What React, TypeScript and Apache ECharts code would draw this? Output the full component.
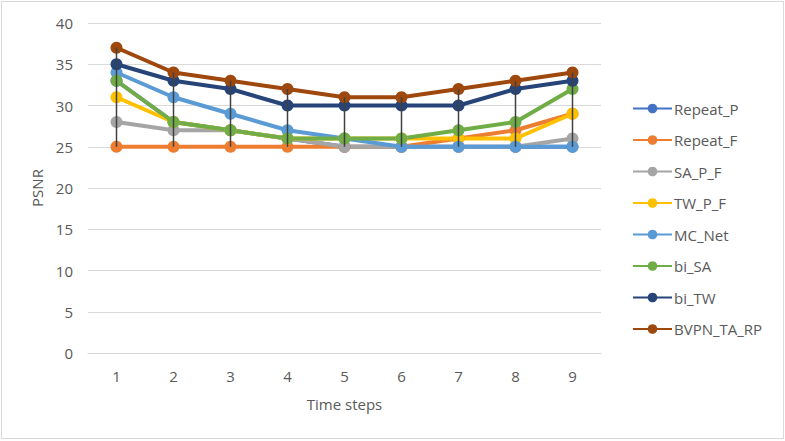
import React, { useEffect, useRef } from "react";
import * as echarts from "echarts";

const categories = ["1", "2", "3", "4", "5", "6", "7", "8", "9"];
const repeatP = [33, 28, 27, 26, 25, 25, 25, 25, 25];
const repeatF = [25, 25, 25, 25, 25, 25, 26, 27, 29];
const saPF = [28, 27, 27, 26, 25, 25, 25, 25, 26];
const twPF = [31, 28, 27, 26, 26, 26, 26, 26, 29];
const mcNet = [34, 31, 29, 27, 26, 25, 25, 25, 25];
const biSA = [33, 28, 27, 26, 26, 26, 27, 28, 32];
const biTW = [35, 33, 32, 30, 30, 30, 30, 32, 33];
const bvpn = [37, 34, 33, 32, 31, 31, 32, 33, 34];

const seriesDefs = [
  { name: "Repeat_P", data: repeatP, color: "#4472C4" },
  { name: "Repeat_F", data: repeatF, color: "#ED7D31" },
  { name: "SA_P_F", data: saPF, color: "#A5A5A5" },
  { name: "TW_P_F", data: twPF, color: "#FFC000" },
  { name: "MC_Net", data: mcNet, color: "#5B9BD5" },
  { name: "bi_SA", data: biSA, color: "#70AD47" },
  { name: "bi_TW", data: biTW, color: "#264478" },
  { name: "BVPN_TA_RP", data: bvpn, color: "#9E480E" },
];

const FONT = "'Open Sans', sans-serif";
const TXT = "#595959";

export default function App() {
  const ref = useRef<HTMLDivElement>(null);
  useEffect(() => {
    if (!ref.current) return;
    const chart = echarts.init(ref.current, undefined, { renderer: "svg" });
    const hiLo = categories.map((_, i) => {
      const vals = seriesDefs.map((s) => s.data[i]);
      return [i, Math.min(...vals), Math.max(...vals)];
    });
    chart.setOption({
      animation: false,
      textStyle: { fontFamily: FONT },
      grid: { left: 86, right: 182, top: 21, bottom: 85 },
      legend: {
        orient: "vertical",
        left: 630,
        top: 99,
        padding: 0,
        itemWidth: 39,
        itemHeight: 12,
        itemGap: 16.5,
        textStyle: { fontFamily: FONT, fontSize: 15, color: TXT, padding: [0, 0, 0, -3] },
        data: seriesDefs.map((s) => s.name),
      },
      xAxis: {
        type: "category",
        data: categories,
        boundaryGap: true,
        axisLine: { lineStyle: { color: "#D9D9D9", width: 1 } },
        axisTick: { show: false },
        axisLabel: { color: TXT, fontSize: 15, fontFamily: FONT, margin: 15 },
        name: "Time steps",
        nameLocation: "middle",
        nameGap: 43,
        nameTextStyle: { color: TXT, fontSize: 15, fontFamily: FONT },
      },
      yAxis: {
        type: "value",
        min: 0,
        max: 40,
        interval: 5,
        axisLine: { show: false },
        axisTick: { show: false },
        axisLabel: { color: TXT, fontSize: 15, fontFamily: FONT, margin: 15 },
        splitLine: { lineStyle: { color: "#D9D9D9", width: 1 } },
        name: "PSNR",
        nameLocation: "middle",
        nameGap: 42,
        nameTextStyle: { color: TXT, fontSize: 15, fontFamily: FONT },
      },
      series: [
        ...seriesDefs.map((s) => ({
          name: s.name,
          type: "line",
          data: s.data,
          symbol: "circle",
          symbolSize: 12,
          lineStyle: { color: s.color, width: 4 },
          itemStyle: { color: s.color },
          emphasis: { disabled: true },
        })),
        {
          type: "custom",
          name: "hilo",
          data: hiLo,
          z: 10,
          silent: true,
          renderItem: (params: any, api: any) => {
            const x = api.value(0);
            const p1 = api.coord([x, api.value(1)]);
            const p2 = api.coord([x, api.value(2)]);
            return {
              type: "line",
              shape: { x1: p1[0], y1: p1[1], x2: p2[0], y2: p2[1] },
              style: { stroke: "#404040", lineWidth: 1.5 },
            };
          },
        },
      ],
    });
    return () => chart.dispose();
  }, []);
  return (
    <div
      style={{
        width: 781,
        height: 436,
        border: "1px solid #D9D9D9",
        position: "absolute",
        left: 1,
        top: 1,
        background: "#fff",
      }}
    >
      <div ref={ref} style={{ width: 781, height: 436 }} />
    </div>
  );
}
